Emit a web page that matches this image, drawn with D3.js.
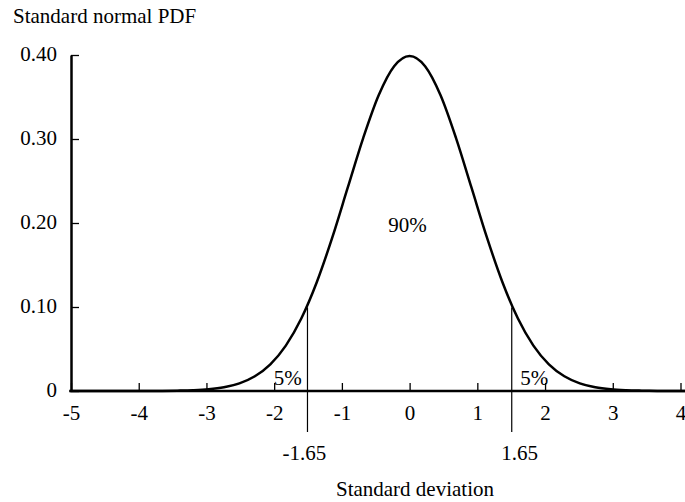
<!DOCTYPE html>
<html>
<head>
<meta charset="utf-8">
<script src="https://cdn.jsdelivr.net/npm/d3@7"></script>
<style>
  html, body { margin: 0; padding: 0; background: #fff; }
  svg { display: block; }
  text { font-family: "Liberation Serif", "Times New Roman", serif; fill: #000; }
</style>
</head>
<body>
<svg id="chart" width="685" height="502"></svg>
<script>
// ---- data ----
const zValues = [-5.5,-5,-4.75,-4.5,-4.25,-4,-3.75,-3.5,-3.25,-3,-2.75,-2.5,-2.25,-2,-1.75,-1.5,-1.25,-1,-0.75,-0.5,-0.25,
                 0,0.25,0.5,0.75,1,1.25,1.5,1.75,2,2.25,2.5,2.75,3,3.25,3.5,3.75,4,4.25,4.5,4.75,5,5.5];
const pdfValues = [0.0000,0.0000,0.0000,0.0000,0.0000,0.0001,0.0004,0.0009,0.0020,0.0044,0.0091,0.0175,0.0317,0.0540,0.0863,0.1295,0.1826,0.2420,0.3011,0.3521,0.3867,
                   0.3989,0.3867,0.3521,0.3011,0.2420,0.1826,0.1295,0.0863,0.0540,0.0317,0.0175,0.0091,0.0044,0.0020,0.0009,0.0004,0.0001,0.0000,0.0000,0.0000,0.0000,0.0000];
const xTicks = [-5,-4,-3,-2,-1,0,1,2,3,4];
const xTickLabels = ["-5","-4","-3","-2","-1","0","1","2","3","4"];
const yTicks = [0, 0.1, 0.2, 0.3, 0.4];
const yTickLabels = ["0","0.10","0.20","0.30","0.40"];
const criticalValues = [-1.65, 1.65];
const criticalLabels = ["-1.65", "1.65"];
const criticalHeights = [0.0995, 0.0995];
const areaLabels = ["5%", "90%", "5%"];
const areaLabelX = [-1.80, -0.03, 1.84];
const areaLabelY = [0.007, 0.189, 0.007];
const yTitle = "Standard normal PDF";
const xTitle = "Standard deviation";

// ---- layout ----
const W = 685, H = 502;
const svg = d3.select("#chart");
// axis scale
const x = d3.scaleLinear().domain([-5, 4]).range([71, 680.5]);
// the curve in the original is drawn slightly narrower than the axis units
const curveWidthRatio = 0.914;
const xc = d3.scaleLinear().domain([-5, 4])
  .range([x(0) - 5 * (x(1) - x(0)) * curveWidthRatio, x(0) + 4 * (x(1) - x(0)) * curveWidthRatio]);
const y = d3.scaleLinear().domain([0, 0.4]).range([391, 55]);
const FS = "21px";

// x axis
const xAxis = svg.append("g").attr("transform", `translate(0,${y(0)})`)
  .call(d3.axisBottom(x).tickValues(xTicks).tickFormat((d, i) => xTickLabels[i])
        .tickSize(-8).tickSizeOuter(0).tickPadding(14));
xAxis.select(".domain").remove();
xAxis.selectAll(".tick line").attr("stroke", "#000").attr("stroke-width", 1.3);
xAxis.selectAll("text").style("font-size", FS).style("font-family", '"Liberation Serif", serif').attr("fill", "#000");
xAxis.append("line").attr("x1", x(-5) - 1).attr("x2", W).attr("y1", 0).attr("y2", 0)
  .attr("stroke", "#000").attr("stroke-width", 2.5);

// y axis
const yAxis = svg.append("g").attr("transform", `translate(${x(-5)},0)`)
  .call(d3.axisLeft(y).tickValues(yTicks).tickFormat((d, i) => yTickLabels[i])
        .tickSize(-8).tickSizeOuter(0).tickPadding(14));
yAxis.select(".domain").attr("stroke", "#000").attr("stroke-width", 2.5);
yAxis.selectAll(".tick line").attr("stroke", "#000").attr("stroke-width", 1.3);
yAxis.selectAll("text").style("font-size", FS).style("font-family", '"Liberation Serif", serif')
  .attr("fill", "#000").attr("dy", "0.27em");

// critical value lines
svg.append("g").selectAll("line").data(criticalValues).join("line")
  .attr("x1", d => xc(d)).attr("x2", d => xc(d))
  .attr("y1", (d, i) => y(criticalHeights[i]))
  .attr("y2", y(0) + 41)
  .attr("stroke", "#000").attr("stroke-width", 1.2);

svg.append("g").selectAll("text").data(criticalValues).join("text")
  .attr("x", d => xc(d) + (d < 0 ? -3 : 8))
  .attr("y", y(0) + 69)
  .attr("text-anchor", "middle").style("font-size", FS)
  .text((d, i) => criticalLabels[i]);

// curve
const pts = zValues.map((z, i) => [z, pdfValues[i]]);
const line = d3.line().x(d => xc(d[0])).y(d => y(d[1])).curve(d3.curveMonotoneX);
svg.append("path").datum(pts).attr("d", line)
  .attr("fill", "none").attr("stroke", "#000").attr("stroke-width", 2.5);

// area labels
svg.append("g").selectAll("text").data(areaLabels).join("text")
  .attr("x", (d, i) => x(areaLabelX[i]))
  .attr("y", (d, i) => y(areaLabelY[i]))
  .attr("text-anchor", "middle").style("font-size", FS)
  .text(d => d);

// titles
svg.append("text").attr("x", 13).attr("y", 23).style("font-size", FS).text(yTitle);
svg.append("text").attr("x", 415).attr("y", 496).attr("text-anchor", "middle").style("font-size", FS).text(xTitle);
</script>
</body>
</html>
